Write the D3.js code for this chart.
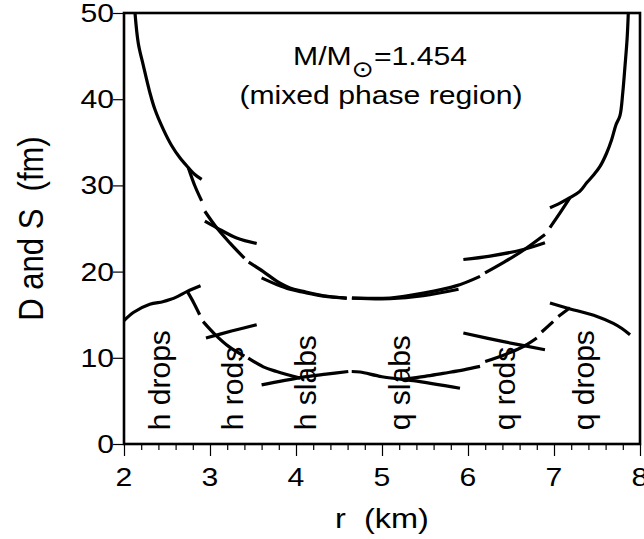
<!DOCTYPE html>
<html><head><meta charset="utf-8">
<script src="https://cdn.jsdelivr.net/npm/d3@7"></script>
<style>
body{margin:0;background:#fff}
svg{display:block}
text{font-family:"Liberation Sans",Arial,Helvetica,sans-serif;fill:#000}
</style>
</head><body>
<svg id="c" width="644" height="539"></svg>
<script>
// ---------- data (x = r in km, y = D or S in fm) ----------
const xTicks = [2, 3, 4, 5, 6, 7, 8];
const yTicks = [0, 10, 20, 30, 40, 50];
const phaseLabels = ["h drops", "h rods", "h slabs", "q slabs", "q rods", "q drops"];
const phaseLabelX = [2.53, 3.38, 4.23, 5.33, 6.55, 7.46];

// spacing S of each geometric phase (solid)
const hDropsS = [[2.128,50],[2.166,46.5],[2.225,43.9],[2.30,40.8],[2.36,38.8],[2.457,36.5],[2.555,34.6],[2.65,33.2],[2.748,32.06],[2.82,31.3],[2.903,30.7]];
const hRodsS  = [[2.94,25.85],[3.078,25.08],[3.31,23.9],[3.543,23.26]];
const hSlabsS = [[3.60,19.27],[3.775,18.5],[3.93,17.95],[4.085,17.6],[4.32,17.15],[4.59,16.9]];
const qSlabsS = [[4.65,16.92],[5.093,16.85],[5.48,17.2],[5.89,17.95]];
const qRodsS  = [[5.946,21.4],[6.256,21.8],[6.643,22.56],[6.895,23.34]];
const qDropsS = [[6.953,27.4],[7.07,27.95],[7.186,28.57],[7.30,29.3],[7.38,30.3],[7.46,31.2],[7.535,32.2],[7.61,33.7],[7.67,35.3],[7.72,37.0],[7.767,38.1],[7.80,40.8],[7.826,43.9],[7.85,47.0],[7.864,50]];
// spacing S along the star (broken at phase boundaries)
const sTrack = [
  [[2.748,32.06],[2.826,29.9],[2.903,28.2]],
  [[2.94,27.0],[3.078,25.08],[3.233,23.3],[3.40,21.55]],
  [[3.45,21.1],[3.62,20.0],[3.775,18.9],[3.93,18.1],[4.085,17.7],[4.32,17.2],[4.59,16.94]],
  [[4.65,16.94],[5.093,16.94],[5.48,17.5],[5.87,18.37],[6.14,19.45]],
  [[6.198,19.85],[6.42,21.1],[6.64,22.45],[6.895,24.3]],
  [[6.953,25.1],[7.07,26.8],[7.186,28.57]]
];

// size D of each geometric phase (solid)
const hDropsD = [[2.0,14.3],[2.108,15.25],[2.30,16.2],[2.45,16.5],[2.535,16.75],[2.62,17.1],[2.736,17.7],[2.89,18.35]];
const hRodsD  = [[2.953,12.3],[3.25,13.1],[3.543,13.84]];
const hSlabsD = [[3.60,6.86],[4.05,7.7],[4.35,8.1],[4.608,8.41]];
const qSlabsD = [[4.648,8.41],[4.744,8.35],[5.0,7.8],[5.364,7.35],[5.907,6.47]];
const qRodsD  = [[5.946,12.87],[6.4,11.9],[6.895,10.93]];
const qDropsD = [[6.953,16.36],[7.15,15.78],[7.5,14.8],[7.69,14.0],[7.79,13.4],[7.884,12.67]];
// size D along the star (broken at phase boundaries)
const dTrack = [
  [[2.736,17.7],[2.81,16.4],[2.88,15.0]],
  [[2.92,14.2],[3.06,12.7],[3.22,11.3],[3.40,10.2]],
  [[3.445,9.96],[3.62,8.95],[3.775,8.41],[4.047,7.64]],
  [[5.248,7.5],[5.5,7.85],[5.71,8.2],[5.95,8.6],[6.14,9.0]],
  [[6.2,9.57],[6.45,10.45],[6.66,11.4],[6.8,12.3]],
  [[6.857,13.0],[6.99,14.2]],
  [[7.05,14.8],[7.186,15.8]]
];

const titleLine1 = ["M/M", "⊙", "=1.454"];
const titleLine2 = "(mixed phase region)";
const xTitle = "r  (km)";
const yTitle = "D and S  (fm)";

// ---------- drawing ----------
const svg = d3.select("#c");
const x = d3.scaleLinear().domain([2, 8]).range([124, 640]);
const y = d3.scaleLinear().domain([0, 50]).range([444, 13]);
const line = d3.line().x(d => x(d[0])).y(d => y(d[1])).curve(d3.curveCatmullRom.alpha(0.5));
const STRETCH = 1.16;

const curves = [hDropsS, hRodsS, hSlabsS, qSlabsS, qRodsS, qDropsS, ...sTrack,
                hDropsD, hRodsD, hSlabsD, qSlabsD, qRodsD, qDropsD, ...dTrack];
svg.append("g").selectAll("path").data(curves).join("path")
  .attr("d", line).attr("fill", "none").attr("stroke", "#000")
  .attr("stroke-width", 3.2).attr("stroke-linecap", "butt").attr("stroke-linejoin", "round");

// axes ticks
const gx = svg.append("g").attr("transform", `translate(0,${y(0)})`)
  .call(d3.axisBottom(x).tickValues(d3.range(2, 8.001, 0.2)).tickSize(6).tickFormat(""));
gx.selectAll(".tick line").filter(d => Math.abs(d - Math.round(d)) < 1e-6).attr("y2", 12);
gx.select(".domain").remove();
gx.selectAll(".tick line").attr("stroke", "#000").attr("stroke-width", 1.2);

const gy = svg.append("g").attr("transform", `translate(${x(2)},0)`)
  .call(d3.axisLeft(y).tickValues(yTicks).tickSize(11).tickFormat(""));
gy.select(".domain").remove();
gy.selectAll(".tick line").attr("stroke", "#000").attr("stroke-width", 1.2);

// frame
svg.append("rect").attr("x", x(2)).attr("y", y(50)).attr("width", x(8) - x(2)).attr("height", y(0) - y(50))
  .attr("fill", "none").attr("stroke", "#000").attr("stroke-width", 2.6);

// tick labels
svg.append("g").selectAll("text").data(xTicks).join("text")
  .attr("transform", d => `translate(${x(d)},486) scale(${STRETCH},1)`)
  .attr("text-anchor", "middle").attr("font-size", 26).text(d => d);
svg.append("g").selectAll("text").data(yTicks).join("text")
  .attr("transform", d => `translate(${x(2) - 10},${y(d) + 9}) scale(${STRETCH},1)`)
  .attr("text-anchor", "end").attr("font-size", 26).text(d => d);

// axis titles
svg.append("text").attr("transform", `translate(${(x(2) + x(8)) / 2},528) scale(${STRETCH},1)`)
  .attr("text-anchor", "middle").attr("font-size", 28).style("white-space", "pre").text(xTitle);
svg.append("text").attr("transform", `translate(43,${(y(0) + y(50)) / 2}) scale(${STRETCH},1) rotate(-90)`)
  .attr("text-anchor", "middle").attr("font-size", 31).style("white-space", "pre").text(yTitle);

// annotation
const t1 = svg.append("text").attr("transform", `translate(380,65) scale(${STRETCH},1)`)
  .attr("text-anchor", "middle").attr("font-size", 26);
t1.append("tspan").text(titleLine1[0]);
t1.append("tspan").attr("font-family", "DejaVu Sans").attr("font-size", 23).attr("dy", 12).text(titleLine1[1]);
t1.append("tspan").attr("dy", -12).text(titleLine1[2]);
svg.append("text").attr("transform", `translate(381,104) scale(${STRETCH},1)`)
  .attr("text-anchor", "middle").attr("font-size", 26).text(titleLine2);

// phase labels
svg.append("g").selectAll("text").data(phaseLabels).join("text")
  .attr("transform", (d, i) => `translate(${x(phaseLabelX[i])},${y(1.6)}) rotate(-90)`)
  .attr("font-size", 30).text(d => d);
</script>
</body></html>
